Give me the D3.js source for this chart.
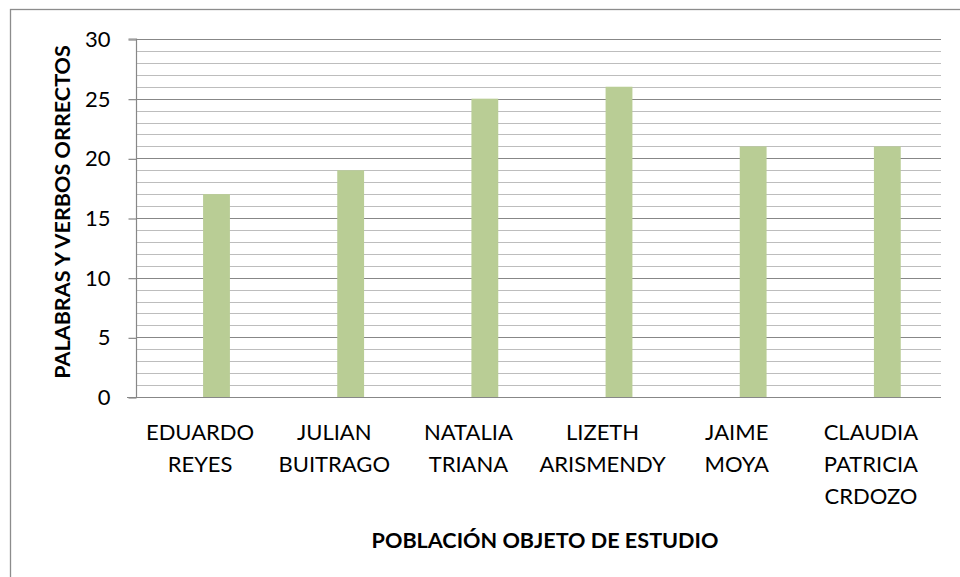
<!DOCTYPE html>
<html><head><meta charset="utf-8">
<script src="https://cdn.jsdelivr.net/npm/d3@7"></script>
<style>body{margin:0;background:#fff}svg{display:block}</style>
</head><body>
<script>
const categories = [["EDUARDO","REYES"],["JULIAN","BUITRAGO"],["NATALIA","TRIANA"],["LIZETH","ARISMENDY"],["JAIME","MOYA"],["CLAUDIA","PATRICIA","CRDOZO"]];
const values = [17, 19, 25, 26, 21, 21];
const yTicks = [0, 5, 10, 15, 20, 25, 30];
const yTitle = "PALABRAS Y VERBOS ORRECTOS";
const xTitle = "POBLACIÓN OBJETO DE ESTUDIO";

const W = 960, H = 577;
const font = "Lato, 'Open Sans', sans-serif";
const svg = d3.select("body").append("svg").attr("width", W).attr("height", H);
svg.append("rect").attr("x", 10.5).attr("y", 9.5).attr("width", 1000).attr("height", 700)
  .attr("fill", "#fff").attr("stroke", "#8c8c8c").attr("stroke-width", 1.3);

const L = 136, R = 941, T = 39, B = 397;
const x = d3.scaleBand().domain(d3.range(categories.length)).range([L, R]);
const y = d3.scaleLinear().domain([0, 30]).range([B, T]);

const g = svg.append("g");
g.selectAll("line.minor").data(d3.range(1, 30).filter(v => v % 5 !== 0)).join("line")
  .attr("x1", L).attr("x2", R).attr("y1", d => Math.round(y(d)) + 0.5).attr("y2", d => Math.round(y(d)) + 0.5)
  .attr("stroke", "#bdbdbd").attr("stroke-width", 1.2);
g.selectAll("line.major").data(yTicks.filter(v => v > 0)).join("line")
  .attr("x1", L).attr("x2", R).attr("y1", d => Math.round(y(d)) + 0.5).attr("y2", d => Math.round(y(d)) + 0.5)
  .attr("stroke", "#878787").attr("stroke-width", 1.2);

const bw = x.bandwidth() * 0.2;
g.selectAll("rect.bar").data(values).join("rect")
  .attr("x", (d, i) => x(i) + x.bandwidth() / 2)
  .attr("width", bw)
  .attr("y", d => y(d)).attr("height", d => B - y(d))
  .attr("fill", "#b9cd95");

const ya = d3.axisLeft(y).tickValues(yTicks).tickSize(8).tickPadding(18);
const yg = svg.append("g").attr("transform", `translate(${L + 0.5},0.5)`).call(ya);
yg.select(".domain").attr("stroke", "#878787").attr("stroke-width", 1.2).attr("d", `M-8,${T - 0.5}H0V${B - 0.5}`);
yg.selectAll(".tick line").attr("stroke", "#878787").attr("stroke-width", 1.2);
yg.selectAll(".tick text").attr("font-family", font).attr("font-size", 22).attr("fill", "#000");

svg.append("line").attr("x1", 127).attr("x2", R).attr("y1", B + 0.5).attr("y2", B + 0.5)
  .attr("stroke", "#878787").attr("stroke-width", 1.2);

const cl = svg.append("g").selectAll("text").data(categories).join("text")
  .attr("font-family", font).attr("font-size", 22).attr("fill", "#000").attr("text-anchor", "middle");
cl.each(function(lines, i) {
  d3.select(this).selectAll("tspan").data(lines).join("tspan")
    .attr("x", x(i) + x.bandwidth() / 2 - 3)
    .attr("y", (d, j) => 440 + j * 32)
    .text(d => d);
});

svg.append("text").attr("x", 545).attr("y", 548).attr("text-anchor", "middle")
  .attr("font-family", font).attr("font-size", 21.6).attr("font-weight", "bold").text(xTitle);
svg.append("text").attr("transform", "translate(70,212) rotate(-90)").attr("text-anchor", "middle")
  .attr("font-family", font).attr("font-size", 21.6).attr("font-weight", "bold").text(yTitle);
</script>
</body></html>
